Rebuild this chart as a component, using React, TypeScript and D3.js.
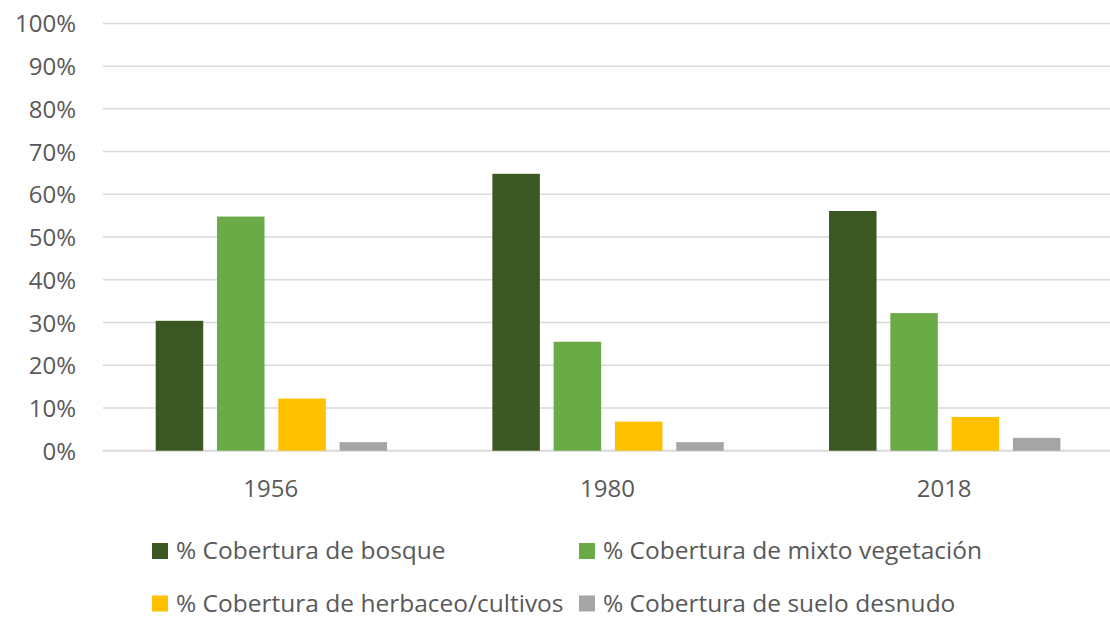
import { useEffect, useRef } from "react";
import * as d3 from "d3";

// Chart data
const years = ["1956", "1980", "2018"];
const seriesNames = [
  "% Cobertura de bosque",
  "% Cobertura de mixto vegetación",
  "% Cobertura de herbaceo/cultivos",
  "% Cobertura de suelo desnudo",
];
const bosque = [30.4, 64.8, 56.1];
const mixto = [54.8, 25.5, 32.2];
const herbaceo = [12.2, 6.8, 7.9];
const suelo = [2.0, 2.0, 3.0];
const yTicks = [0, 10, 20, 30, 40, 50, 60, 70, 80, 90, 100];

const seriesValues = [bosque, mixto, herbaceo, suelo];
const colors = ["#3B5823", "#6AAB48", "#FFC000", "#A5A5A5"];

// Size of the svg
const width = 1110;
const height = 618;
const FONT = "'Open Sans', sans-serif";
const TEXT_COLOR = "#595959";

export default function App() {
  const svgRef = useRef<SVGSVGElement | null>(null);

  useEffect(() => {
    const svg = d3.select(svgRef.current);
    svg.selectAll("*").remove();

    // scales
    const x0 = d3.scaleBand().domain(years).range([102.5, 1112.5]).padding(0);
    const x1 = d3
      .scaleBand()
      .domain(seriesNames)
      .range([53.2, 284.6])
      .paddingInner(0.225)
      .paddingOuter(0);
    const y = d3.scaleLinear().domain([0, 100]).range([450.7, 23.4]);

    // gridlines
    svg
      .append("g")
      .selectAll("line")
      .data(yTicks)
      .join("line")
      .attr("x1", 103)
      .attr("x2", width)
      .attr("y1", (d) => y(d))
      .attr("y2", (d) => y(d))
      .attr("stroke", "#D9D9D9")
      .attr("stroke-width", (d) => (d === 0 ? 2 : 1.5));

    // y labels
    svg
      .append("g")
      .selectAll("text")
      .data(yTicks)
      .join("text")
      .attr("x", 76)
      .attr("y", (d) => y(d) + 9)
      .attr("text-anchor", "end")
      .attr("font-family", FONT)
      .attr("font-size", 24)
      .attr("fill", TEXT_COLOR)
      .text((d) => d + "%");

    // bars
    const groups = svg
      .append("g")
      .selectAll("g")
      .data(years)
      .join("g")
      .attr("transform", (d) => `translate(${x0(d)},0)`);

    groups
      .selectAll("rect")
      .data((_, i) => seriesNames.map((name, s) => ({ name, s, v: seriesValues[s][i] })))
      .join("rect")
      .attr("x", (d) => x1(d.name) as number)
      .attr("width", x1.bandwidth())
      .attr("y", (d) => y(d.v))
      .attr("height", (d) => y(0) - y(d.v))
      .attr("fill", (d) => colors[d.s]);

    // x labels
    svg
      .append("g")
      .selectAll("text")
      .data(years)
      .join("text")
      .attr("x", (d) => (x0(d) as number) + 168.3)
      .attr("y", 497.3)
      .attr("text-anchor", "middle")
      .attr("font-family", FONT)
      .attr("font-size", 24)
      .attr("fill", TEXT_COLOR)
      .text((d) => d);

    // legend
    const legendPos = [
      [152, 559],
      [579, 559],
      [152, 611.5],
      [579, 611.5],
    ];
    const legend = svg
      .append("g")
      .selectAll("g")
      .data(seriesNames)
      .join("g")
      .attr("transform", (_, i) => `translate(${legendPos[i][0]},${legendPos[i][1]})`);
    legend
      .append("rect")
      .attr("x", 0)
      .attr("y", -16)
      .attr("width", 16)
      .attr("height", 16)
      .attr("fill", (_, i) => colors[i]);
    legend
      .append("text")
      .attr("x", 24)
      .attr("y", 0)
      .attr("font-family", FONT)
      .attr("font-size", 24.5)
      .attr("fill", TEXT_COLOR)
      .text((d) => d);
  }, []);

  return (
    <svg
      ref={svgRef}
      width={width}
      height={height}
      style={{ position: "absolute", left: 0, top: 0, background: "#fff" }}
    />
  );
}
